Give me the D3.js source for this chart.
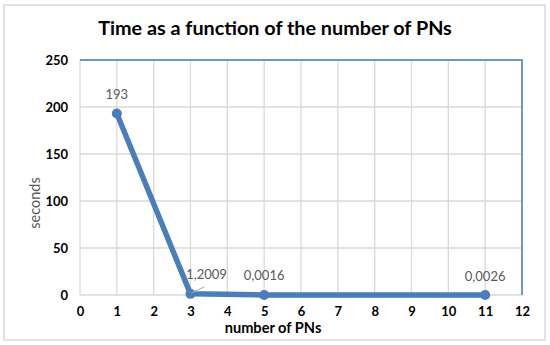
<!DOCTYPE html>
<html><head><meta charset="utf-8">
<script src="https://cdn.jsdelivr.net/npm/d3@7"></script>
<style>body{margin:0;background:#fff;} svg{display:block;}</style>
</head><body>
<script>
const xValues = [1, 3, 5, 11];
const yValues = [193, 1.2009, 0.0016, 0.0026];
const pointLabels = ["193", "1,2009", "0,0016", "0,0026"];
const xTicks = [0,1,2,3,4,5,6,7,8,9,10,11,12];
const yTicks = [0,50,100,150,200,250];
const title = "Time as a function of the number of PNs";
const xTitle = "number of PNs";
const yTitle = "seconds";

const W = 550, H = 345;
const svg = d3.select("body").append("svg").attr("width", W).attr("height", H);
const font = "Lato, 'Open Sans', sans-serif";

svg.append("rect").attr("x",4).attr("y",5).attr("width",541).attr("height",335)
  .attr("fill","#fff").attr("stroke","#d9d9d9").attr("stroke-width",1.5);

const x = d3.scaleLinear().domain([0,12]).range([80,522]);
const y = d3.scaleLinear().domain([0,250]).range([295,60]);

// gridlines
svg.append("g").selectAll("line").data(xTicks).join("line")
  .attr("x1",d=>x(d)).attr("x2",d=>x(d)).attr("y1",y(0)).attr("y2",y(250))
  .attr("stroke","#d9d9d9").attr("stroke-width",1.3);
svg.append("g").selectAll("line").data(yTicks).join("line")
  .attr("x1",x(0)).attr("x2",x(12)).attr("y1",d=>y(d)).attr("y2",d=>y(d))
  .attr("stroke","#d9d9d9").attr("stroke-width",1.3);

// top and right borders blue
svg.append("path").attr("d",`M${x(0)},${y(250)}H${x(12)}V${y(0)}`)
  .attr("fill","none").attr("stroke","#4a7ebb").attr("stroke-width",1.5);

// axes (labels only)
const xAxis = svg.append("g").attr("transform",`translate(0,${y(0)})`)
  .call(d3.axisBottom(x).tickValues(xTicks).tickSize(0).tickPadding(12).tickFormat(d3.format("d")));
xAxis.select(".domain").remove();
xAxis.selectAll("text").attr("font-family",font).attr("font-weight","bold").attr("font-size",13).attr("fill","#000");

const yAxis = svg.append("g").attr("transform",`translate(${x(0)},0)`)
  .call(d3.axisLeft(y).tickValues(yTicks).tickSize(0).tickPadding(12));
yAxis.select(".domain").remove();
yAxis.selectAll("text").attr("font-family",font).attr("font-weight","bold").attr("font-size",13).attr("fill","#000");

// title
svg.append("text").attr("x",275).attr("y",35).attr("text-anchor","middle")
  .attr("font-family",font).attr("font-weight","bold").attr("font-size",19.8).attr("fill","#000").text(title);
svg.append("text").attr("x",273).attr("y",333).attr("text-anchor","middle")
  .attr("font-family",font).attr("font-weight","bold").attr("font-size",14.6).attr("fill","#000").text(xTitle);
svg.append("text").attr("transform","translate(40,203) rotate(-90)").attr("text-anchor","middle")
  .attr("font-family",font).attr("font-size",14.5).attr("fill","#595959").text(yTitle);

const data = xValues.map((v,i)=>({x:v,y:yValues[i],label:pointLabels[i]}));

// line
svg.append("path").datum(data)
  .attr("d", d3.line().x(d=>x(d.x)).y(d=>y(d.y)))
  .attr("fill","none").attr("stroke","#4a7ebb").attr("stroke-width",5.5).attr("stroke-linejoin","round");
svg.append("g").selectAll("circle").data(data).join("circle")
  .attr("cx",d=>x(d.x)).attr("cy",d=>y(d.y)).attr("r",5).attr("fill","#4a7ebb");

// leader line for second label
svg.append("line").attr("x1",x(xValues[1])+1).attr("y1",y(yValues[1])-1)
  .attr("x2",x(xValues[1])+14).attr("y2",y(yValues[1])-7).attr("stroke","#a6a6a6").attr("stroke-width",1);

const labelOffsets = [[0,-15],[16,-15],[0,-15],[0,-14]];
svg.append("g").selectAll("text").data(data).join("text")
  .attr("x",(d,i)=>x(d.x)+labelOffsets[i][0]).attr("y",(d,i)=>y(d.y)+labelOffsets[i][1])
  .attr("text-anchor","middle").attr("font-family",font).attr("font-size",13).attr("fill","#595959")
  .text(d=>d.label);
</script>
</body></html>
